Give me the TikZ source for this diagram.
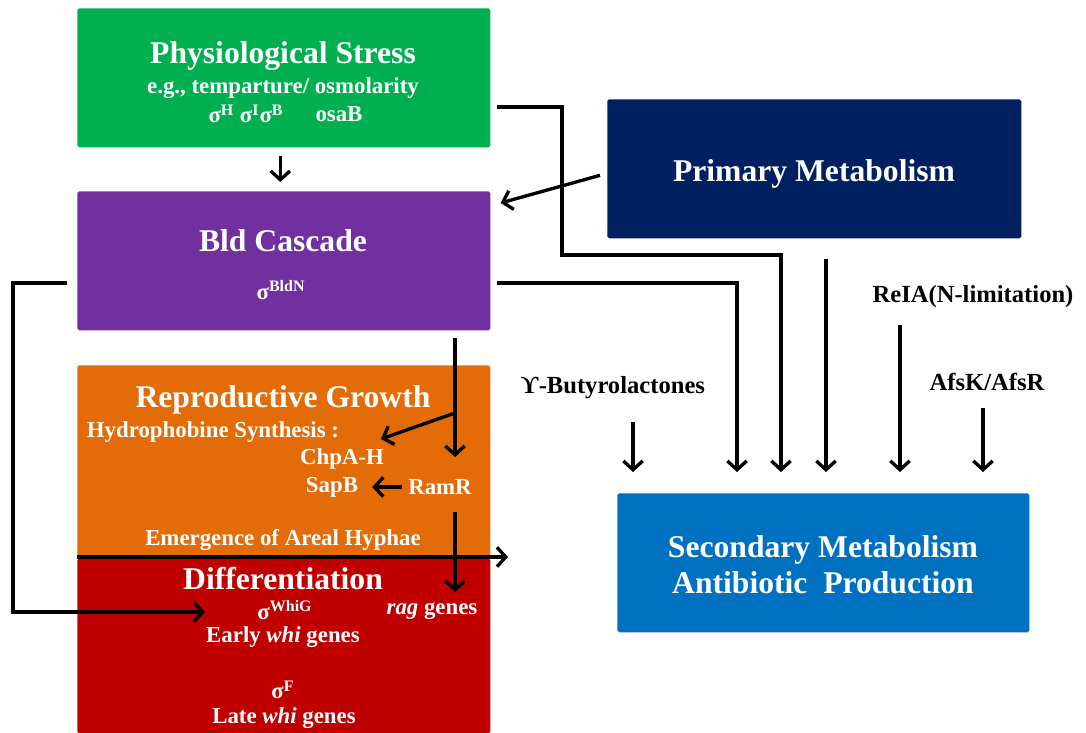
\documentclass[tikz,border=0pt]{standalone}
\usepackage{fontspec}
\setmainfont{Liberation Serif}
\usetikzlibrary{arrows.meta,positioning}

\definecolor{stressgreen}{HTML}{00B050}
\definecolor{bldpurple}{HTML}{7030A0}
\definecolor{reporange}{HTML}{E36C09}
\definecolor{diffred}{HTML}{C00000}
\definecolor{primnavy}{HTML}{002060}
\definecolor{secblue}{HTML}{0070C0}

\tikzset{
  box/.style={anchor=north west,inner sep=0pt,rounded corners=1pt},
  big/.style={text=white,font=\fontsize{18}{20.5}\selectfont\bfseries},
  small/.style={text=white,font=\fontsize{13}{15}\selectfont\bfseries},
  lab/.style={font=\fontsize{14}{16}\selectfont\bfseries},
  flow/.style={-{Straight Barb[length=5pt,width=11pt]},line width=1.9pt},
}

\begin{document}
\begin{tikzpicture}[x=0.02cm,y=-0.02cm]
\useasboundingbox (0,0) rectangle (1086,733);

% boxes
\node[box,fill=stressgreen,minimum width=8.26cm,minimum height=2.78cm] (stress) at (77,8) {};
\node[box,fill=bldpurple,minimum width=8.26cm,minimum height=2.78cm] (bld) at (77,191) {};
\node[box,fill=reporange,minimum width=8.26cm,minimum height=3.86cm] (repro) at (77,365) {};
\node[box,fill=diffred,minimum width=8.26cm,minimum height=3.5cm] (diff) at (77,558) {};
\node[box,fill=primnavy,minimum width=8.28cm,minimum height=2.78cm] (prim) at (607,99) {};
\node[box,fill=secblue,minimum width=8.24cm,minimum height=2.78cm] (sec) at (617,493) {};

% texts
\node[big] (stresst) at (283,56) {Physiological Stress};
\node[small] (stresseg) at (283,88) {e.g., temparture/ osmolarity};
\node[small] (sigh) at (246,114) {σ\textsuperscript{H} σ\textsuperscript{I}σ\textsuperscript{B}};
\node[small] (osab) at (339,114) {osaB};

\node[big] (bldt) at (283,241) {Bld Cascade};
\node[small] (bldn) at (281,290) {σ\textsuperscript{BldN}};

\node[big] (primt) at (814,174) {Primary Metabolism};

\node[big] (reprot) at (283,400) {Reproductive Growth};
\node[small] (hydro) at (213,432) {Hydrophobine Synthesis :};
\node[small] (chpa) at (342,459) {ChpA-H};
\node[small] (sapb) at (332,487) {SapB};
\node[small] (ramr) at (440,487) {RamR};
\node[small] (areal) at (283,540) {Emergence of Areal Hyphae};

\node[big] (difft) at (283,579) {Differentiation};
\node[small] (whig) at (285,610) {σ\textsuperscript{WhiG}};
\node[small] (rag) at (432,611) {\textit{rag} genes};
\node[small] (early) at (283,637) {Early \textit{whi} genes};
\node[small] (sigf) at (283,690) {σ\textsuperscript{F}};
\node[small] (late) at (284,718) {Late \textit{whi} genes};

\node[big,align=center] (sect) at (823,565) {Secondary Metabolism\\Antibiotic\ \ Production};

\node[lab] (butyro) at (613,388) {ϒ-Butyrolactones};
\node[lab] (rela) at (973,297) {ReIA(N-limitation)};
\node[lab] (afsk) at (987,382) {AfsK/AfsR};

% arrow ends on the secondary box
\coordinate (e1) at (633,472);
\coordinate (e2) at (737,472);
\coordinate (e3) at (781,472);
\coordinate (e4) at (826,472);
\coordinate (e5) at (900,472);
\coordinate (e6) at (983,472);

\draw[flow] ([xshift=-0.07cm,yshift=-0.16cm]stress.south) -- ([xshift=-0.07cm,yshift=0.18cm]bld.north);
\draw[flow] ([xshift=-0.14cm,yshift=-0.13cm]prim.west) -- ([xshift=0.2cm,yshift=-0.24cm]bld.north east);

\coordinate (s1) at (497,107);
\draw[flow] (s1) -| (562,255) -| (e3);
\coordinate (b1) at (497,283);
\draw[flow] (b1) -| (e2);
\draw[flow,shorten <=0.4cm] (prim.south -| e4) -- (e4);
\draw[flow,shorten <=0.34cm] (butyro.south -| e1) -- (e1);
\draw[flow,shorten <=0.22cm] (rela.south -| e5) -- (e5);
\draw[flow,shorten <=0.22cm] (afsk.south -| e6) -- (e6);

% bld cascade to differentiation
\coordinate (b2) at (67,283);
\coordinate (w1) at (205,612);
\draw[flow] (b2) -- (13,283) |- (w1);

% bld cascade down through reproductive growth
\coordinate (d1) at (455,338);
\coordinate (d2) at (455,457);
\coordinate (d3) at (455,413);
\coordinate (h1) at (381,439);
\draw[flow] (d1) -- (d2);
\draw[flow] (d3) -- (h1);
\draw[flow,shorten >=0.16cm] (ramr.west) -- (sapb.east);
\coordinate (r1) at (455,512);
\coordinate (r2) at (455,592);
\draw[flow] (r1) -- (r2);

\coordinate (a1) at (508,557);
\draw[flow] (repro.south west |- a1) -- (a1);

\end{tikzpicture}
\end{document}
